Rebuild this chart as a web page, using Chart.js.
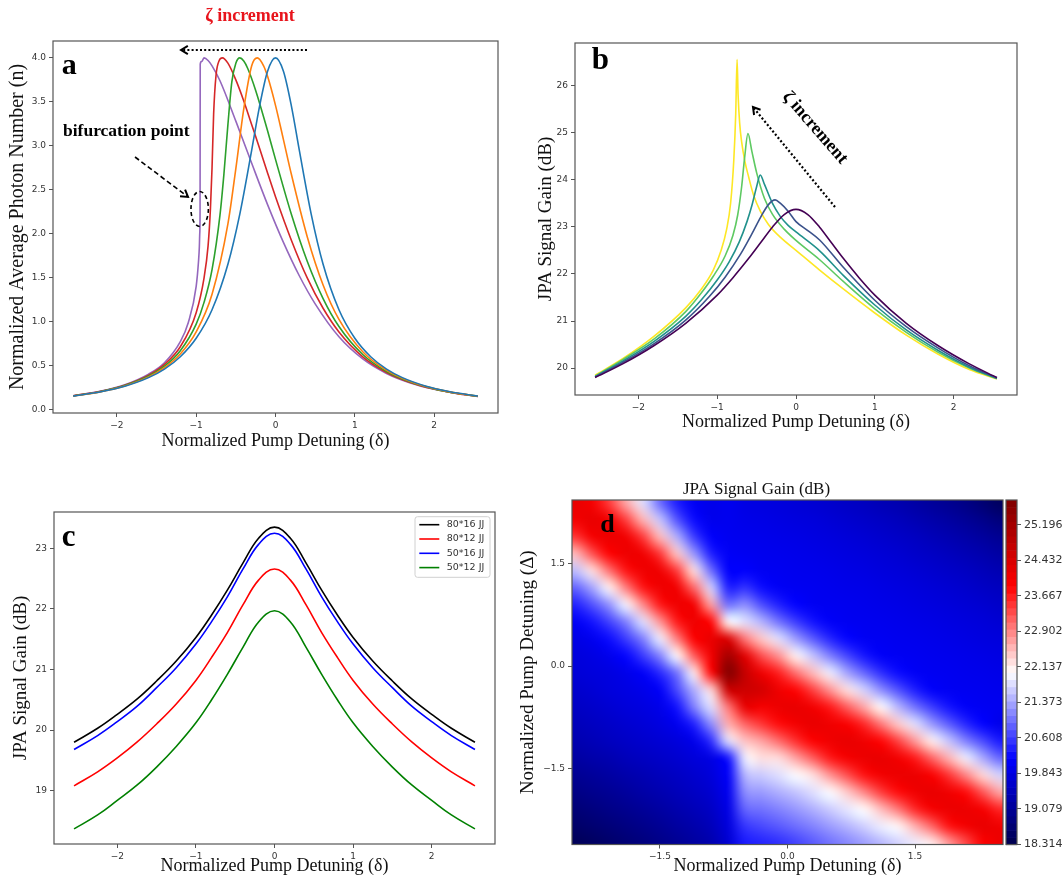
<!DOCTYPE html>
<html>
<head>
<meta charset="utf-8">
<title>JPA photon number and gain</title>
<script src="https://cdn.jsdelivr.net/npm/chart.js@4.4.1/dist/chart.umd.min.js"></script>
<style>
  html, body { margin: 0; background: #fff; }
  body { position: relative; width: 1064px; height: 878px; overflow: hidden; }
  canvas { position: absolute; }
</style>
</head>
<body>
<canvas id="panel-a" width="520" height="452" style="left:0px;top:0px"></canvas>
<canvas id="panel-b" width="540" height="433" style="left:520px;top:0px"></canvas>
<canvas id="panel-c" width="520" height="408" style="left:0px;top:470px"></canvas>
<canvas id="panel-d" width="555" height="408" style="left:510px;top:470px"></canvas>
<canvas id="panel-d-bar" width="64" height="408" style="left:1000px;top:470px"></canvas>
<script>
// ---- panel a : normalized photon number, one curve per zeta
const photonBlueX = [-2.55, -2.2, -1.9, -1.6, -1.4, -1.2, -1.0, -0.8, -0.6, -0.45, -0.3, -0.2, -0.1, 0, 0.1, 0.2, 0.3, 0.45, 0.6, 0.8, 1.0, 1.2, 1.4, 1.6, 1.9, 2.2, 2.55];
const photonBlueY = [0.15, 0.199, 0.262, 0.36, 0.457, 0.598, 0.808, 1.133, 1.651, 2.222, 2.95, 3.454, 3.848, 4.0, 3.848, 3.454, 2.95, 2.222, 1.651, 1.133, 0.808, 0.598, 0.457, 0.36, 0.262, 0.199, 0.15];
const photonOrangeX = [-2.55, -2.2, -1.9, -1.6, -1.4, -1.2, -1.0, -0.8, -0.6, -0.5, -0.4, -0.3, -0.23, -0.15, -0.1, 0, 0.1, 0.2, 0.4, 0.6, 0.8, 1.1, 1.4, 1.7, 2.0, 2.3, 2.55];
const photonOrangeY = [0.15, 0.2, 0.266, 0.369, 0.474, 0.63, 0.88, 1.31, 2.11, 2.74, 3.42, 3.91, 4.0, 3.91, 3.79, 3.46, 3.07, 2.675, 1.965, 1.415, 1.023, 0.655, 0.443, 0.316, 0.235, 0.181, 0.149];
const photonGreenX = [-2.55, -2.2, -1.9, -1.6, -1.4, -1.2, -1.0, -0.9, -0.8, -0.7, -0.65, -0.6, -0.55, -0.5, -0.45, -0.4, -0.35, -0.25, -0.1, 0, 0.2, 0.4, 0.6, 0.8, 1.1, 1.4, 1.7, 2.0, 2.3, 2.55];
const photonGreenY = [0.151, 0.203, 0.27, 0.378, 0.49, 0.667, 0.97, 1.22, 1.59, 2.21, 2.68, 3.24, 3.73, 3.94, 4.0, 3.965, 3.88, 3.63, 3.17, 2.845, 2.22, 1.685, 1.26, 0.942, 0.623, 0.43, 0.31, 0.232, 0.179, 0.148];
const photonRedX = [-2.55, -2.2, -1.9, -1.6, -1.4, -1.2, -1.0, -0.9, -0.85, -0.82, -0.8, -0.78, -0.75, -0.71, -0.67, -0.6, -0.5, -0.4, -0.3, -0.2, -0.1, 0, 0.2, 0.4, 0.6, 0.8, 1.1, 1.4, 1.7, 2.0, 2.3, 2.55];
const photonRedY = [0.153, 0.205, 0.274, 0.388, 0.511, 0.712, 1.1, 1.5, 1.86, 2.29, 2.75, 3.36, 3.8, 3.97, 4.0, 3.94, 3.75, 3.51, 3.24, 2.97, 2.69, 2.42, 1.925, 1.495, 1.15, 0.88, 0.597, 0.419, 0.305, 0.23, 0.178, 0.147];
const photonPurpleX = [-2.55, -2.2, -1.9, -1.6, -1.4, -1.2, -1.1, -1.0, -0.97, -0.96, -0.955, -0.951, -0.949, -0.93, -0.9, -0.85, -0.8, -0.7, -0.5, -0.3, -0.1, 0.1, 0.3, 0.5, 0.8, 1.1, 1.4, 1.7, 2.0, 2.3, 2.55];
const photonPurpleY = [0.154, 0.207, 0.279, 0.4, 0.53, 0.77, 0.986, 1.4, 1.69, 1.85, 2.0, 2.25, 3.93, 3.96, 4.0, 3.97, 3.91, 3.74, 3.28, 2.8, 2.33, 1.9, 1.52, 1.2, 0.825, 0.573, 0.408, 0.3, 0.227, 0.177, 0.146];
const photonTicks = [0, 0.5, 1, 1.5, 2, 2.5, 3, 3.5, 4];

// ---- panel b : signal gain for increasing zeta (viridis order)
const gainZeta0X = [-2.55, -2.2, -1.8, -1.4, -1.0, -0.8, -0.6, -0.45, -0.3, -0.15, 0, 0.15, 0.3, 0.45, 0.6, 0.8, 1.0, 1.4, 1.8, 2.2, 2.55];
const gainZeta0Y = [19.8, 20.09, 20.48, 20.95, 21.55, 21.92, 22.33, 22.66, 22.99, 23.26, 23.37, 23.26, 22.99, 22.66, 22.33, 21.92, 21.55, 20.95, 20.48, 20.09, 19.8];
const gainZeta1X = [-2.55, -2.2, -1.8, -1.4, -1.1, -0.9, -0.7, -0.55, -0.45, -0.35, -0.265, -0.2, -0.1, 0, 0.15, 0.3, 0.6, 1.0, 1.4, 1.8, 2.2, 2.55];
const gainZeta1Y = [19.81, 20.12, 20.52, 21.02, 21.52, 21.93, 22.43, 22.88, 23.2, 23.47, 23.57, 23.5, 23.33, 23.11, 22.92, 22.72, 22.14, 21.44, 20.88, 20.43, 20.05, 19.79];
const gainZeta2X = [-2.55, -2.2, -1.8, -1.4, -1.2, -1.0, -0.85, -0.72, -0.62, -0.56, -0.5, -0.454, -0.4, -0.3, -0.2, -0.1, 0, 0.3, 0.6, 1.0, 1.4, 1.8, 2.2, 2.55];
const gainZeta2Y = [19.82, 20.15, 20.57, 21.1, 21.45, 21.87, 22.25, 22.68, 23.12, 23.45, 23.85, 24.1, 23.9, 23.5, 23.22, 23.03, 22.89, 22.49, 21.97, 21.34, 20.81, 20.38, 20.02, 19.78];
const gainZeta3X = [-2.55, -2.2, -1.8, -1.4, -1.2, -1.05, -0.9, -0.8, -0.74, -0.69, -0.65, -0.61, -0.56, -0.5, -0.4, -0.3, -0.15, 0, 0.3, 0.6, 1.0, 1.4, 1.8, 2.2, 2.55];
const gainZeta3Y = [19.83, 20.18, 20.62, 21.2, 21.6, 21.95, 22.38, 22.82, 23.25, 23.85, 24.5, 24.98, 24.6, 24.15, 23.6, 23.27, 22.95, 22.71, 22.3, 21.84, 21.26, 20.76, 20.34, 20.0, 19.78];
const gainZeta4X = [-2.55, -2.2, -1.8, -1.4, -1.2, -1.05, -0.95, -0.88, -0.83, -0.79, -0.765, -0.748, -0.735, -0.715, -0.69, -0.65, -0.6, -0.54, -0.45, -0.35, -0.2, 0, 0.3, 0.6, 1.0, 1.4, 1.8, 2.2, 2.55];
const gainZeta4Y = [19.85, 20.2, 20.68, 21.28, 21.68, 22.08, 22.5, 22.95, 23.5, 24.4, 25.4, 26.55, 25.8, 25.2, 24.8, 24.4, 24.05, 23.68, 23.32, 23.05, 22.78, 22.5, 22.08, 21.68, 21.17, 20.7, 20.3, 19.97, 19.77];
const gainBTicks = [20, 21, 22, 23, 24, 25, 26];

// ---- panel c : signal gain for four array sizes
const arrayX = [-2.55, -2.25, -2.0, -1.75, -1.5, -1.25, -1.0, -0.8, -0.6, -0.4, -0.2, 0, 0.2, 0.4, 0.6, 0.8, 1.0, 1.25, 1.5, 1.75, 2.0, 2.25, 2.55];
const gain80x16 = [19.8, 20.03, 20.26, 20.51, 20.81, 21.14, 21.53, 21.9, 22.31, 22.76, 23.17, 23.35, 23.17, 22.76, 22.31, 21.9, 21.53, 21.14, 20.81, 20.51, 20.26, 20.03, 19.8];
const gain80x12 = [19.08, 19.31, 19.54, 19.8, 20.1, 20.43, 20.82, 21.2, 21.61, 22.07, 22.48, 22.66, 22.48, 22.07, 21.61, 21.2, 20.82, 20.43, 20.1, 19.8, 19.54, 19.31, 19.08];
const gain50x16 = [19.68, 19.91, 20.14, 20.39, 20.7, 21.03, 21.42, 21.79, 22.2, 22.66, 23.07, 23.25, 23.07, 22.66, 22.2, 21.79, 21.42, 21.03, 20.7, 20.39, 20.14, 19.91, 19.68];
const gain50x12 = [18.37, 18.6, 18.84, 19.09, 19.39, 19.73, 20.12, 20.5, 20.92, 21.37, 21.79, 21.97, 21.79, 21.37, 20.92, 20.5, 20.12, 19.73, 19.39, 19.09, 18.84, 18.6, 18.37];
const arrayLabels = ["80*16 JJ", "80*12 JJ", "50*16 JJ", "50*12 JJ"];
const gainCTicks = [19, 20, 21, 22, 23];

const detuningTicks = [-2, -1, 0, 1, 2];

// ---- panel d : gain map over pump detuning delta (columns) and Delta (rows)
const gainX = [-2.5, -2.3, -2.1, -1.9, -1.7, -1.5, -1.3, -1.1, -0.9, -0.7, -0.5, -0.3, -0.1, 0.1, 0.3, 0.5, 0.7, 0.9, 1.1, 1.3, 1.5, 1.7, 1.9, 2.1, 2.3, 2.5];
const gainY = [2.4, 2.15, 1.9, 1.65, 1.4, 1.15, 0.9, 0.65, 0.4, 0.15, -0.1, -0.35, -0.6, -0.85, -1.1, -1.35, -1.6, -1.85, -2.1, -2.35, -2.6];
const gainRows = [
  [24.2, 24.0, 23.45, 22.65, 21.8, 20.95, 20.37, 20.05, 19.95, 20.0, 19.89, 19.85, 19.8, 19.75, 19.7, 19.64, 19.57, 19.5, 19.41, 19.34, 19.23, 19.12, 19.02, 18.89, 18.7, 18.5],
  [24.04, 24.2, 24.03, 23.42, 22.55, 21.6, 20.77, 20.24, 19.98, 20.0, 19.94, 19.91, 19.87, 19.83, 19.79, 19.73, 19.67, 19.61, 19.54, 19.47, 19.38, 19.29, 19.19, 19.08, 18.95, 18.8],
  [23.5, 24.0, 24.15, 24.07, 23.45, 22.5, 21.45, 20.6, 20.13, 20.02, 19.99, 19.96, 19.93, 19.9, 19.86, 19.81, 19.76, 19.71, 19.65, 19.59, 19.52, 19.43, 19.35, 19.25, 19.15, 19.04],
  [22.5, 23.27, 23.86, 24.12, 24.08, 23.48, 22.43, 21.27, 20.39, 20.08, 20.03, 20.0, 19.98, 19.95, 19.92, 19.88, 19.84, 19.79, 19.74, 19.69, 19.62, 19.56, 19.48, 19.4, 19.32, 19.21],
  [21.55, 22.25, 23.03, 23.74, 24.09, 24.1, 23.45, 22.25, 20.98, 20.15, 20.15, 20.04, 20.02, 19.99, 19.97, 19.94, 19.9, 19.87, 19.82, 19.77, 19.72, 19.66, 19.6, 19.53, 19.45, 19.37],
  [20.88, 21.36, 22.1, 22.95, 23.72, 24.1, 24.07, 23.12, 21.7, 20.4, 20.53, 20.25, 20.07, 20.03, 20.01, 19.98, 19.95, 19.93, 19.89, 19.85, 19.8, 19.75, 19.7, 19.64, 19.57, 19.5],
  [20.4, 20.74, 21.22, 21.95, 22.85, 23.7, 24.1, 24.03, 22.7, 21.0, 21.2, 20.73, 20.39, 20.18, 20.04, 20.02, 20.0, 19.97, 19.94, 19.91, 19.87, 19.83, 19.78, 19.73, 19.68, 19.61],
  [20.07, 20.3, 20.63, 21.1, 21.8, 22.78, 23.7, 24.11, 23.84, 22.05, 21.8, 21.47, 21.0, 20.6, 20.3, 20.1, 20.03, 20.01, 19.99, 19.96, 19.93, 19.9, 19.86, 19.81, 19.77, 19.71],
  [19.9, 20.0, 20.25, 20.6, 21.1, 21.9, 22.95, 23.9, 24.2, 24.4, 23.0, 22.4, 21.8, 21.3, 20.83, 20.44, 20.2, 20.05, 20.03, 20.0, 19.98, 19.95, 19.92, 19.88, 19.84, 19.8],
  [19.8, 19.87, 19.98, 20.2, 20.58, 21.12, 22.05, 23.2, 24.05, 25.2, 24.3, 23.3, 22.8, 22.1, 21.6, 21.1, 20.67, 20.33, 20.1, 20.04, 20.02, 19.99, 19.97, 19.94, 19.91, 19.87],
  [19.75, 19.8, 19.85, 19.95, 20.1, 20.45, 21.0, 22.15, 23.8, 25.7, 24.7, 24.1, 23.65, 23.06, 22.5, 21.9, 21.37, 20.92, 20.5, 20.24, 20.07, 20.03, 20.01, 19.98, 19.96, 19.93],
  [19.65, 19.72, 19.8, 19.87, 19.95, 20.1, 20.7, 21.45, 22.3, 24.6, 24.6, 24.5, 24.1, 23.85, 23.4, 22.8, 22.25, 21.7, 21.2, 20.76, 20.38, 20.12, 20.04, 20.02, 20.0, 19.97],
  [19.55, 19.62, 19.7, 19.78, 19.85, 19.95, 20.3, 21.1, 21.8, 23.0, 24.2, 24.0, 24.15, 24.2, 24.05, 23.7, 23.2, 22.65, 22.05, 21.5, 21.0, 20.6, 20.3, 20.1, 20.04, 20.01],
  [19.45, 19.52, 19.6, 19.68, 19.75, 19.85, 20.0, 20.4, 21.2, 22.6, 23.15, 23.5, 23.8, 24.05, 24.2, 24.1, 23.95, 23.6, 23.0, 22.4, 21.8, 21.28, 20.83, 20.44, 20.18, 19.95],
  [19.35, 19.42, 19.5, 19.58, 19.65, 19.72, 19.8, 19.95, 20.5, 21.8, 22.45, 22.7, 23.1, 23.55, 23.9, 24.1, 24.2, 24.1, 23.85, 23.4, 22.75, 22.13, 21.6, 21.1, 20.7, 20.34],
  [19.2, 19.28, 19.35, 19.45, 19.52, 19.6, 19.68, 19.78, 19.88, 20.3, 21.9, 22.25, 22.27, 22.7, 23.2, 23.7, 24.0, 24.15, 24.2, 24.05, 23.7, 23.15, 22.55, 21.9, 21.4, 20.9],
  [19.05, 19.12, 19.2, 19.3, 19.38, 19.47, 19.56, 19.66, 19.78, 20.1, 21.5, 21.65, 21.8, 22.0, 22.25, 22.8, 23.3, 23.75, 24.05, 24.15, 24.15, 23.95, 23.5, 22.9, 22.3, 21.7],
  [18.9, 18.98, 19.06, 19.15, 19.25, 19.35, 19.45, 19.55, 19.68, 20.0, 21.2, 21.3, 21.45, 21.6, 21.8, 22.0, 22.4, 22.9, 23.45, 23.8, 24.1, 24.2, 24.08, 23.8, 23.25, 22.65],
  [18.75, 18.83, 18.92, 19.0, 19.1, 19.2, 19.32, 19.43, 19.57, 19.9, 20.9, 21.0, 21.12, 21.27, 21.45, 21.65, 21.85, 22.05, 22.5, 23.0, 23.6, 24.0, 24.15, 24.15, 24.0, 23.6],
  [18.6, 18.68, 18.77, 18.86, 18.95, 19.06, 19.18, 19.3, 19.45, 19.8, 20.55, 20.7, 20.82, 20.97, 21.12, 21.3, 21.48, 21.68, 21.9, 22.08, 22.6, 23.15, 23.75, 24.05, 24.2, 24.1],
  [18.42, 18.52, 18.62, 18.72, 18.82, 18.93, 19.05, 19.18, 19.33, 19.7, 20.35, 20.42, 20.5, 20.65, 20.82, 21.0, 21.15, 21.32, 21.5, 21.7, 21.9, 22.15, 22.75, 23.35, 23.9, 24.15]
];
const gainMin = 18.314;
const gainMax = 25.73;
const mapTicks = [-1.5, 0, 1.5];
const barTicks = [18.314, 19.079, 19.843, 20.608, 21.373, 22.137, 22.902, 23.667, 24.432, 25.196];

const SERIF = "'Liberation Serif', 'Times New Roman', serif";
Chart.defaults.font.family = "'DejaVu Sans', sans-serif";
Chart.defaults.font.size = 9;
Chart.defaults.color = "#333";

function minus(s) {
    return s.replace("-", "\u2212");
}

function axis(o) {
    return {
        type: "linear",
        min: o.min,
        max: o.max,
        position: o.position,
        afterFit: s => {
            if (o.width != null) s.width = o.width;
            if (o.height != null) s.height = o.height;
        },
        afterBuildTicks: s => {
            s.ticks = o.ticks.map(v => ({ value: v }));
        },
        ticks: {
            callback: v => minus(Number(v).toFixed(o.digits)),
            padding: 3,
            color: "#333",
            font: { size: o.tickSize || 9 },
            maxRotation: 0,
            autoSkip: false
        },
        grid: { drawOnChartArea: false, drawTicks: true, tickLength: 4, color: "#555" },
        border: { display: false },
        title: o.title ? {
            display: true,
            text: o.title,
            color: "#111",
            font: { family: SERIF, size: o.titleSize || 18, weight: "normal" },
            padding: o.titlePad
        } : { display: false }
    };
}

// smooth: true -> plain bezier (symmetric curves), otherwise monotone (sharp peaks)
function series(xs, ys, color, label, smooth) {
    const ds = {
        label: label,
        data: xs.map((x, i) => ({ x: x, y: ys[i] })),
        borderColor: color,
        borderWidth: 1.6,
        pointRadius: 0,
        fill: false
    };
    if (smooth) {
        ds.tension = 0.4;
    } else {
        ds.cubicInterpolationMode = "monotone";
    }
    return ds;
}

const framePlugin = {
    id: "frame",
    afterDatasetsDraw(chart) {
        const { ctx, chartArea: a } = chart;
        ctx.save();
        ctx.strokeStyle = "#555";
        ctx.lineWidth = 1.2;
        ctx.strokeRect(a.left, a.top, a.right - a.left, a.bottom - a.top);
        ctx.restore();
    }
};

function arrow(ctx, x0, y0, x1, y1, dash, width) {
    ctx.setLineDash(dash);
    ctx.lineWidth = width;
    ctx.beginPath();
    ctx.moveTo(x0, y0);
    ctx.lineTo(x1, y1);
    ctx.stroke();
    ctx.setLineDash([]);
    const ang = Math.atan2(y1 - y0, x1 - x0);
    const L = 8;
    ctx.lineWidth = 2;
    ctx.beginPath();
    ctx.moveTo(x1 - L * Math.cos(ang - 0.55), y1 - L * Math.sin(ang - 0.55));
    ctx.lineTo(x1, y1);
    ctx.lineTo(x1 - L * Math.cos(ang + 0.55), y1 - L * Math.sin(ang + 0.55));
    ctx.stroke();
}

function letter(chart, text, x, y, size) {
    const ctx = chart.ctx;
    ctx.fillStyle = "#000";
    ctx.font = `bold ${size}px ${SERIF}`;
    ctx.textAlign = "left";
    ctx.textBaseline = "alphabetic";
    ctx.fillText(text, chart.scales.x.getPixelForValue(x), chart.scales.y.getPixelForValue(y));
}

function baseOptions(padding, scales, extra) {
    return Object.assign({
        responsive: false,
        animation: false,
        events: [],
        layout: { padding: padding },
        plugins: { legend: { display: false }, tooltip: { enabled: false }, title: { display: false } },
        scales: scales
    }, extra || {});
}

// ---------------- panel a
const notesA = {
    id: "notesA",
    afterDraw(chart) {
        const { ctx, scales: { x, y } } = chart;
        const X = v => x.getPixelForValue(v), Y = v => y.getPixelForValue(v);
        ctx.save();
        letter(chart, "a", -2.695, 3.817, 30);

        ctx.fillStyle = "#e8141c";
        ctx.font = `bold 18px ${SERIF}`;
        ctx.textAlign = "center";
        ctx.textBaseline = "middle";
        ctx.fillText("\u03b6 increment", X(-0.321), Y(4.478));

        ctx.strokeStyle = "#000";
        arrow(ctx, X(0.397), Y(4.09), X(-1.191), Y(4.09), [2, 2.2], 2.2);

        ctx.fillStyle = "#000";
        ctx.font = `bold 17.5px ${SERIF}`;
        ctx.textAlign = "left";
        ctx.fillText("bifurcation point", X(-2.679), Y(3.168));

        arrow(ctx, X(-1.771), Y(2.872), X(-1.103), Y(2.417), [5, 3], 1.6);

        ctx.setLineDash([4, 3]);
        ctx.lineWidth = 1.6;
        ctx.beginPath();
        ctx.ellipse(X(-0.956), Y(2.28), 8.7, 17.5, 0, 0, Math.PI * 2);
        ctx.stroke();
        ctx.restore();
    }
};

new Chart(document.getElementById("panel-a"), {
    type: "line",
    data: {
        datasets: [
            series(photonBlueX, photonBlueY, "#1f77b4"),
            series(photonOrangeX, photonOrangeY, "#ff7f0e"),
            series(photonGreenX, photonGreenY, "#2ca02c"),
            series(photonRedX, photonRedY, "#d62728"),
            series(photonPurpleX, photonPurpleY, "#9467bd")
        ]
    },
    options: baseOptions({ top: 41, right: 22, left: 0, bottom: 0 }, {
        x: axis({ min: -2.805, max: 2.805, position: "bottom", height: 39, ticks: detuningTicks, digits: 0,
                  title: "Normalized Pump Detuning (\u03b4)", titlePad: { top: 0, bottom: 0.2 } }),
        y: axis({ min: -0.0425, max: 4.1925, position: "left", width: 53, ticks: photonTicks, digits: 1,
                  title: "Normalized Average Photon Number (n)", titleSize: 20, titlePad: { top: 6, bottom: 0 } })
    }),
    plugins: [framePlugin, notesA]
});

// ---------------- panel b
const notesB = {
    id: "notesB",
    afterDraw(chart) {
        const { ctx, scales: { x, y } } = chart;
        const X = v => x.getPixelForValue(v), Y = v => y.getPixelForValue(v);
        ctx.save();
        letter(chart, "b", -2.593, 26.349, 31);
        ctx.strokeStyle = "#000";
        arrow(ctx, X(0.495), Y(23.42), X(-0.546), Y(25.54), [2, 2.2], 2.2);
        ctx.translate(X(0.241), Y(25.1));
        ctx.rotate(49 * Math.PI / 180);
        ctx.fillStyle = "#000";
        ctx.font = `bold 18px ${SERIF}`;
        ctx.textAlign = "center";
        ctx.textBaseline = "middle";
        ctx.fillText("\u03b6 increment", 0, 0);
        ctx.restore();
    }
};

new Chart(document.getElementById("panel-b"), {
    type: "line",
    data: {
        datasets: [
            series(gainZeta0X, gainZeta0Y, "#440154"),
            series(gainZeta1X, gainZeta1Y, "#3b528b"),
            series(gainZeta2X, gainZeta2Y, "#21918c"),
            series(gainZeta3X, gainZeta3Y, "#5ec962"),
            series(gainZeta4X, gainZeta4Y, "#fde725")
        ]
    },
    options: baseOptions({ top: 43, right: 43, left: 0, bottom: 0 }, {
        x: axis({ min: -2.805, max: 2.805, position: "bottom", height: 38, ticks: detuningTicks, digits: 0,
                  title: "Normalized Pump Detuning (\u03b4)", titlePad: { top: 0, bottom: 0.2 } }),
        y: axis({ min: 19.43, max: 26.9, position: "left", width: 55, ticks: gainBTicks, digits: 0,
                  title: "JPA Signal Gain (dB)", titleSize: 19, titlePad: { top: 14.6, bottom: 0 } })
    }),
    plugins: [framePlugin, notesB]
});

// ---------------- panel c
const legendBox = {
    id: "legendBox",
    afterDraw(chart) {
        const { ctx, chartArea: a } = chart;
        const w = 75, h = 60.6;
        const left = a.right - 5 - w, top = a.top + 4.7;
        ctx.save();
        ctx.fillStyle = "rgba(255,255,255,0.85)";
        ctx.strokeStyle = "#d0d0d0";
        ctx.lineWidth = 1;
        ctx.beginPath();
        ctx.roundRect(left, top, w, h, 2.5);
        ctx.fill();
        ctx.stroke();
        chart.data.datasets.forEach((ds, i) => {
            const yy = top + 8 + i * 14.3;
            ctx.strokeStyle = ds.borderColor;
            ctx.lineWidth = 1.6;
            ctx.beginPath();
            ctx.moveTo(left + 4.3, yy);
            ctx.lineTo(left + 24.3, yy);
            ctx.stroke();
            ctx.fillStyle = "#333";
            ctx.font = "9.5px 'DejaVu Sans'";
            ctx.textAlign = "left";
            ctx.textBaseline = "middle";
            ctx.fillText(ds.label, left + 31.7, yy);
        });
        letter(chart, "c", -2.707, 23.04, 31);
        ctx.restore();
    }
};

new Chart(document.getElementById("panel-c"), {
    type: "line",
    data: {
        datasets: [
            series(arrayX, gain80x16, "#000000", arrayLabels[0], true),
            series(arrayX, gain80x12, "#ff0000", arrayLabels[1], true),
            series(arrayX, gain50x16, "#0000ff", arrayLabels[2], true),
            series(arrayX, gain50x12, "#008000", arrayLabels[3], true)
        ]
    },
    options: baseOptions({ top: 42, right: 25, left: 0, bottom: 0 }, {
        x: axis({ min: -2.805, max: 2.805, position: "bottom", height: 34, ticks: detuningTicks, digits: 0,
                  title: "Normalized Pump Detuning (\u03b4)", titlePad: { top: 0, bottom: 1.2 } }),
        y: axis({ min: 18.12, max: 23.6, position: "left", width: 54, ticks: gainCTicks, digits: 0,
                  title: "JPA Signal Gain (dB)", titleSize: 19, titlePad: { top: 9.6, bottom: 0 } })
    }),
    plugins: [framePlugin, legendBox]
});

// ---------------- panel d : map + colour bar
const seismic = [[0, 0, 0.3], [0, 0, 1], [1, 1, 1], [1, 0, 0], [0.5, 0, 0]];

function gainColor(v) {
    let t = (v - gainMin) / (gainMax - gainMin);
    t = Math.max(0, Math.min(1, t)) * 4;
    const i = Math.min(3, Math.floor(t));
    const f = t - i;
    const a = seismic[i], b = seismic[i + 1];
    return [0, 1, 2].map(k => Math.round(255 * (a[k] + (b[k] - a[k]) * f)));
}

const heatPlugin = {
    id: "heat",
    beforeDatasetsDraw(chart) {
        const { ctx, chartArea: a, scales: { x, y } } = chart;
        const cols = gainX.length, rows = gainY.length;
        const off = document.createElement("canvas");
        off.width = cols;
        off.height = rows;
        const octx = off.getContext("2d");
        const img = octx.createImageData(cols, rows);
        gainRows.forEach((row, r) => {
            row.forEach((v, c) => {
                const rgb = gainColor(v);
                const k = (r * cols + c) * 4;
                img.data[k] = rgb[0];
                img.data[k + 1] = rgb[1];
                img.data[k + 2] = rgb[2];
                img.data[k + 3] = 255;
            });
        });
        octx.putImageData(img, 0, 0);
        const hx = (gainX[1] - gainX[0]) / 2, hy = (gainY[0] - gainY[1]) / 2;
        const left = x.getPixelForValue(gainX[0] - hx);
        const right = x.getPixelForValue(gainX[cols - 1] + hx);
        const top = y.getPixelForValue(gainY[0] + hy);
        const bottom = y.getPixelForValue(gainY[rows - 1] - hy);
        ctx.save();
        ctx.beginPath();
        ctx.rect(a.left, a.top, a.right - a.left, a.bottom - a.top);
        ctx.clip();
        ctx.imageSmoothingEnabled = true;
        ctx.imageSmoothingQuality = "high";
        ctx.drawImage(off, left, top, right - left, bottom - top);
        ctx.restore();
    }
};

const notesD = {
    id: "notesD",
    afterDraw(chart) {
        chart.ctx.save();
        letter(chart, "d", -2.204, 1.97, 26);
        chart.ctx.restore();
    }
};

new Chart(document.getElementById("panel-d"), {
    type: "scatter",
    data: { datasets: [{ data: [] }] },
    options: baseOptions({ top: 0, right: 62, left: 0, bottom: 0 }, {
        x: axis({ min: -2.535, max: 2.535, position: "bottom", height: 33.5, ticks: mapTicks, digits: 1,
                  title: "Normalized Pump Detuning (\u03b4)", titlePad: { top: 0, bottom: 1.2 } }),
        y: axis({ min: -2.62, max: 2.44, position: "left", width: 62, ticks: mapTicks, digits: 1,
                  title: "Normalized Pump Detuning (\u0394)", titleSize: 19, titlePad: { top: 6.6, bottom: 0 } })
    }, {
        plugins: {
            legend: { display: false },
            tooltip: { enabled: false },
            title: {
                display: true,
                text: "JPA Signal Gain (dB)",
                color: "#111",
                font: { family: SERIF, size: 17, weight: "normal" },
                padding: { top: 9, bottom: 0.6 }
            }
        }
    }),
    plugins: [heatPlugin, framePlugin, notesD]
});

const barPlugin = {
    id: "bar",
    beforeDatasetsDraw(chart) {
        const { ctx, chartArea: a, scales: { y } } = chart;
        const n = 48;
        for (let i = 0; i < n; i++) {
            const v0 = gainMin + (gainMax - gainMin) * i / n;
            const v1 = gainMin + (gainMax - gainMin) * (i + 1) / n;
            const rgb = gainColor((v0 + v1) / 2);
            ctx.fillStyle = `rgb(${rgb[0]},${rgb[1]},${rgb[2]})`;
            const yt = y.getPixelForValue(v1), yb = y.getPixelForValue(v0);
            ctx.fillRect(a.left, yt, a.right - a.left, yb - yt + 0.6);
        }
    }
};

new Chart(document.getElementById("panel-d-bar"), {
    type: "scatter",
    data: { datasets: [{ data: [] }] },
    options: baseOptions({ top: 30, right: 0, left: 6, bottom: 33.5 }, {
        x: { type: "linear", display: false, min: 0, max: 1 },
        y: axis({ min: gainMin, max: gainMax, position: "right", width: 47, ticks: barTicks, digits: 3, tickSize: 11 })
    }),
    plugins: [barPlugin, framePlugin]
});
</script>
</body>
</html>
